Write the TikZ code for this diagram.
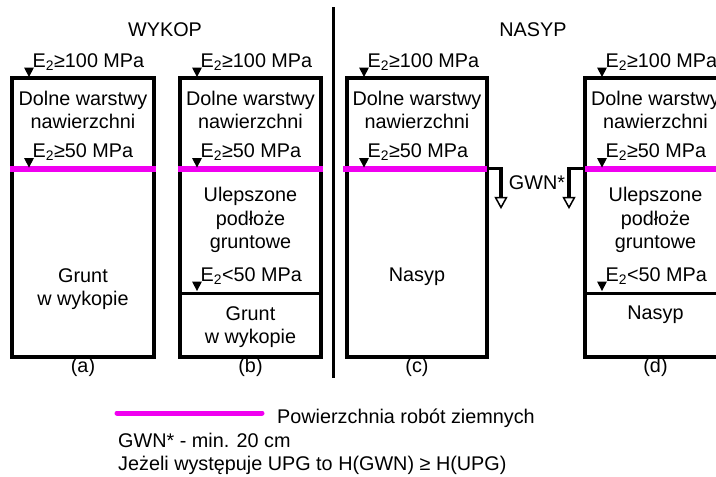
\documentclass[tikz,border=0pt]{standalone}
\usepackage{fontspec}
\setmainfont{Liberation Sans}
\usetikzlibrary{positioning,calc}
\definecolor{robmag}{RGB}{240,0,240}
\newcommand{\tnode}[3]{\node [txt] (#1) at (#2) {#3}}
\newcommand{\emark}[4]{\fill (#2-5,#3-10.5) -- (#2+5,#3-10.5) -- (#2,#3-1) -- cycle;
  \node [etxt] (#1) at (#2+3.5,#3-11) {#4}}
\newcommand{\opentri}[1]{\filldraw[fill=white,line width=1.5pt] ($(#1)+(-5.5,0)$) -- ($(#1)+(5.5,0)$) -- ($(#1)+(0,10)$) -- cycle}
\begin{document}
\begin{tikzpicture}[x=1pt,y=-1pt,
  font=\fontsize{19.8}{23.5}\selectfont,
  txt/.style={inner sep=0pt,align=center},
  etxt/.style={inner sep=0pt,anchor=base west},
  box/.style={line width=4pt},
  sep/.style={line width=3pt},
  ground/.style={robmag,line width=6pt}]

\useasboundingbox (0,0) rectangle (716,477);
\clip (0,0) rectangle (716,477);

\tnode{WYK}{165,30}{WYKOP};
\tnode{NAS}{533,30}{NASYP};
\draw[sep] (333,7) -- (333,378);

% (a)
\draw[box] (12,78) rectangle (154,357);
\draw[ground] (10,168.5) -- (156,168.5);
\emark{EA1}{29}{78}{E\textsubscript{2}≥100 MPa};
\emark{EA2}{29}{168.5}{E\textsubscript{2}≥50 MPa};
\tnode{DWA}{83,110}{Dolne warstwy\\nawierzchni};
\tnode{GRA}{83,289}{Grunt\\w wykopie};
\tnode{LA}{83,367}{(a)};

% (b)
\draw[box] (180,78) rectangle (321,357);
\draw[sep] (180,293) -- (321,293);
\draw[ground] (178,168.5) -- (323,168.5);
\emark{EB1}{197}{78}{E\textsubscript{2}≥100 MPa};
\emark{EB2}{197}{168.5}{E\textsubscript{2}≥50 MPa};
\emark{EB3}{197}{292}{E\textsubscript{2}<50 MPa};
\tnode{DWB}{250.5,110}{Dolne warstwy\\nawierzchni};
\tnode{UPB}{250.5,220}{Ulepszone\\podłoże\\gruntowe};
\tnode{GRB}{250.5,327}{Grunt\\w wykopie};
\tnode{LB}{250.5,367}{(b)};

% (c)
\draw[box] (347,78) rectangle (487,357);
\draw[ground] (343,168.5) -- (487,168.5);
\emark{EC1}{364}{78}{E\textsubscript{2}≥100 MPa};
\emark{EC2}{364}{168.5}{E\textsubscript{2}≥50 MPa};
\tnode{DWC}{417,110}{Dolne warstwy\\nawierzchni};
\tnode{NSC}{417,277}{Nasyp};
\tnode{LC}{417,367}{(c)};

% (d)
\draw[box] (585,78) rectangle (726,357);
\draw[sep] (585,293) -- (726,293);
\draw[ground] (585,168.5) -- (726,168.5);
\emark{ED1}{602}{78}{E\textsubscript{2}≥100 MPa};
\emark{ED2}{602}{168.5}{E\textsubscript{2}≥50 MPa};
\emark{ED3}{602}{292}{E\textsubscript{2}<50 MPa};
\tnode{DWD}{655.5,110}{Dolne warstwy\\nawierzchni};
\tnode{UPD}{655.5,220}{Ulepszone\\podłoże\\gruntowe};
\tnode{NSD}{655.5,315}{Nasyp};
\tnode{LD}{655.5,367}{(d)};

% GWN
\coordinate (GC) at (487,168.5);
\coordinate (GD) at (585,168.5);
\draw[box,line width=3.5pt] (GC) -- ++(14,0) -- ++(0,29) coordinate (GC2);
\draw[box,line width=3.5pt] (GD) -- ++(-16,0) -- ++(0,29) coordinate (GD2);
\opentri{GC2};
\opentri{GD2};
\tnode{GWN}{537,183}{GWN*};

% legenda
\coordinate (L1) at (117,413);
\draw[robmag,line width=5pt,line cap=round] (L1) -- ++(145,0);
\node [etxt] (LEG) at (277,423) {Powierzchnia robót ziemnych};
\node [etxt] (GMIN) at (118,447) {GWN* - min. 20 cm};
\node [etxt] (UPG) at (118,470) {Jeżeli występuje UPG to H(GWN) ≥ H(UPG)};

\end{tikzpicture}
\end{document}
